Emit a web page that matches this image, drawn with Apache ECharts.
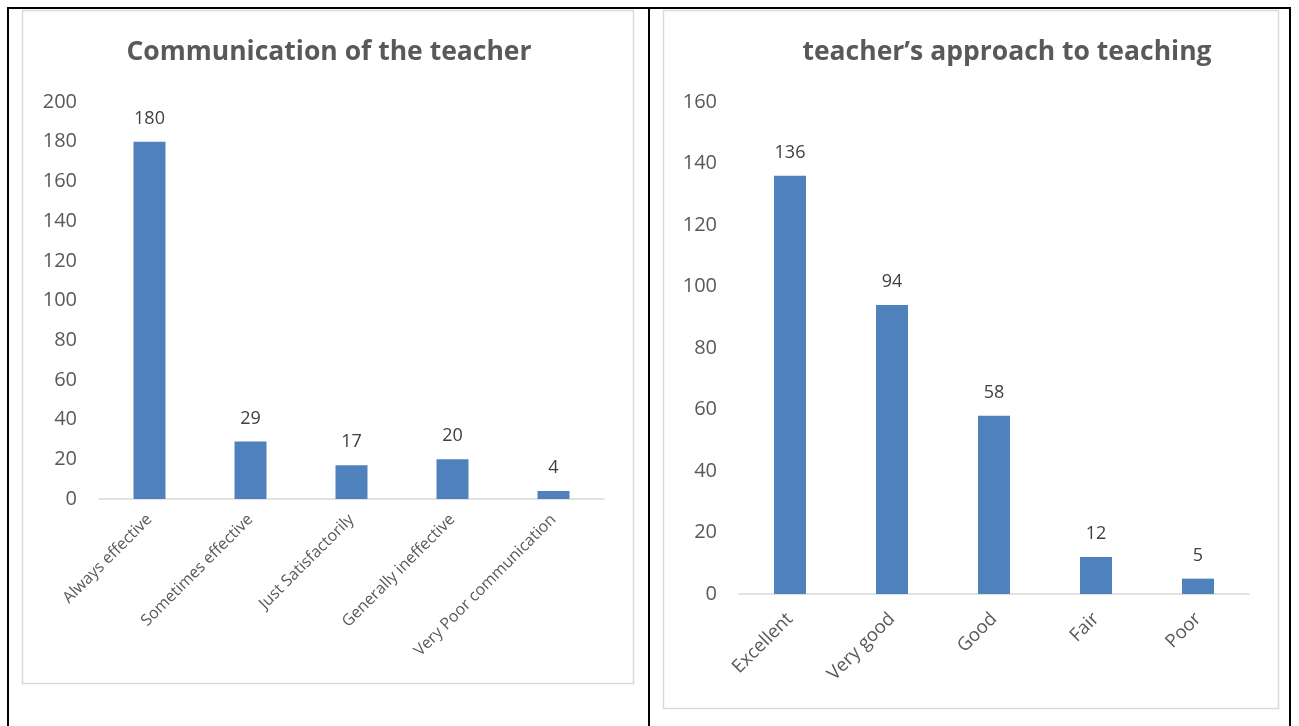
<!DOCTYPE html>
<html>
<head>
<meta charset="utf-8">
<script src="https://cdn.jsdelivr.net/npm/echarts@6/dist/echarts.min.js"></script>
<style>
html,body{margin:0;padding:0;background:#fff;}
#c{width:1299px;height:726px;}
</style>
</head>
<body>
<div id="c"></div>
<script>
const leftTitle = 'Communication of the teacher';
const leftCategories = ['Always effective', 'Sometimes effective', 'Just Satisfactorily', 'Generally ineffective', 'Very Poor communication'];
const leftValues = [180, 29, 17, 20, 4];
const leftMax = 200;

const rightTitle = 'teacher\u2019s approach to teaching';
const rightCategories = ['Excellent', 'Very good', 'Good', 'Fair', 'Poor'];
const rightValues = [136, 94, 58, 12, 5];
const rightMax = 160;

const tickInterval = 20;
const barColor = '#4f81bd';
const FONT = '"Open Sans", sans-serif';

const chart = echarts.init(document.getElementById('c'), null, {renderer: 'canvas'});

function yAxis(gridIndex, max) {
  return {
    type: 'value', gridIndex, min: 0, max, interval: tickInterval,
    axisLine: {show: false}, axisTick: {show: false}, splitLine: {show: false},
    axisLabel: {color: '#595959', fontSize: 20, fontFamily: FONT, margin: 22}
  };
}
function xAxis(gridIndex, data, fontSize, margin) {
  return {
    type: 'category', gridIndex, data,
    axisLine: {show: true, lineStyle: {color: '#d9d9d9', width: 1.5}},
    axisTick: {show: false},
    axisLabel: {color: '#595959', fontSize, fontFamily: FONT, rotate: 45, margin, interval: 0}
  };
}
function bars(idx, values) {
  return {
    type: 'bar', xAxisIndex: idx, yAxisIndex: idx, data: values,
    barWidth: 32,
    itemStyle: {color: barColor},
    label: {show: true, position: 'top', distance: 14, color: '#404040', fontSize: 18, fontFamily: FONT},
    silent: true
  };
}

chart.setOption({
  animation: false,
  title: [
    {text: leftTitle, left: 324, top: 34, textAlign: 'center',
     textStyle: {color: '#595959', fontSize: 26.5, fontWeight: 'bold', fontFamily: FONT}},
    {text: rightTitle, left: 1002, top: 34, textAlign: 'center',
     textStyle: {color: '#595959', fontSize: 26.5, fontWeight: 'bold', fontFamily: FONT}}
  ],
  grid: [
    {left: 99, top: 102, width: 505, height: 397},
    {left: 739, top: 102, width: 510, height: 492}
  ],
  xAxis: [xAxis(0, leftCategories, 16, 18), xAxis(1, rightCategories, 18.5, 22)],
  yAxis: [yAxis(0, leftMax), yAxis(1, rightMax)],
  series: [bars(0, leftValues), bars(1, rightValues)],
  graphic: [
    {type: 'rect', z: -1, shape: {x: 22.5, y: 10.5, width: 611, height: 673}, style: {fill: 'none', stroke: '#d9d9d9', lineWidth: 1.5}},
    {type: 'rect', z: -1, shape: {x: 663.5, y: 10.5, width: 615, height: 698}, style: {fill: 'none', stroke: '#d9d9d9', lineWidth: 1.5}},
    {type: 'line', shape: {x1: 7, y1: 8, x2: 1291, y2: 8}, style: {stroke: '#000', lineWidth: 2}},
    {type: 'line', shape: {x1: 8, y1: 7, x2: 8, y2: 726}, style: {stroke: '#000', lineWidth: 2}},
    {type: 'line', shape: {x1: 649, y1: 7, x2: 649, y2: 726}, style: {stroke: '#000', lineWidth: 2}},
    {type: 'line', shape: {x1: 1290, y1: 7, x2: 1290, y2: 726}, style: {stroke: '#000', lineWidth: 2}}
  ]
});
</script>
</body>
</html>
